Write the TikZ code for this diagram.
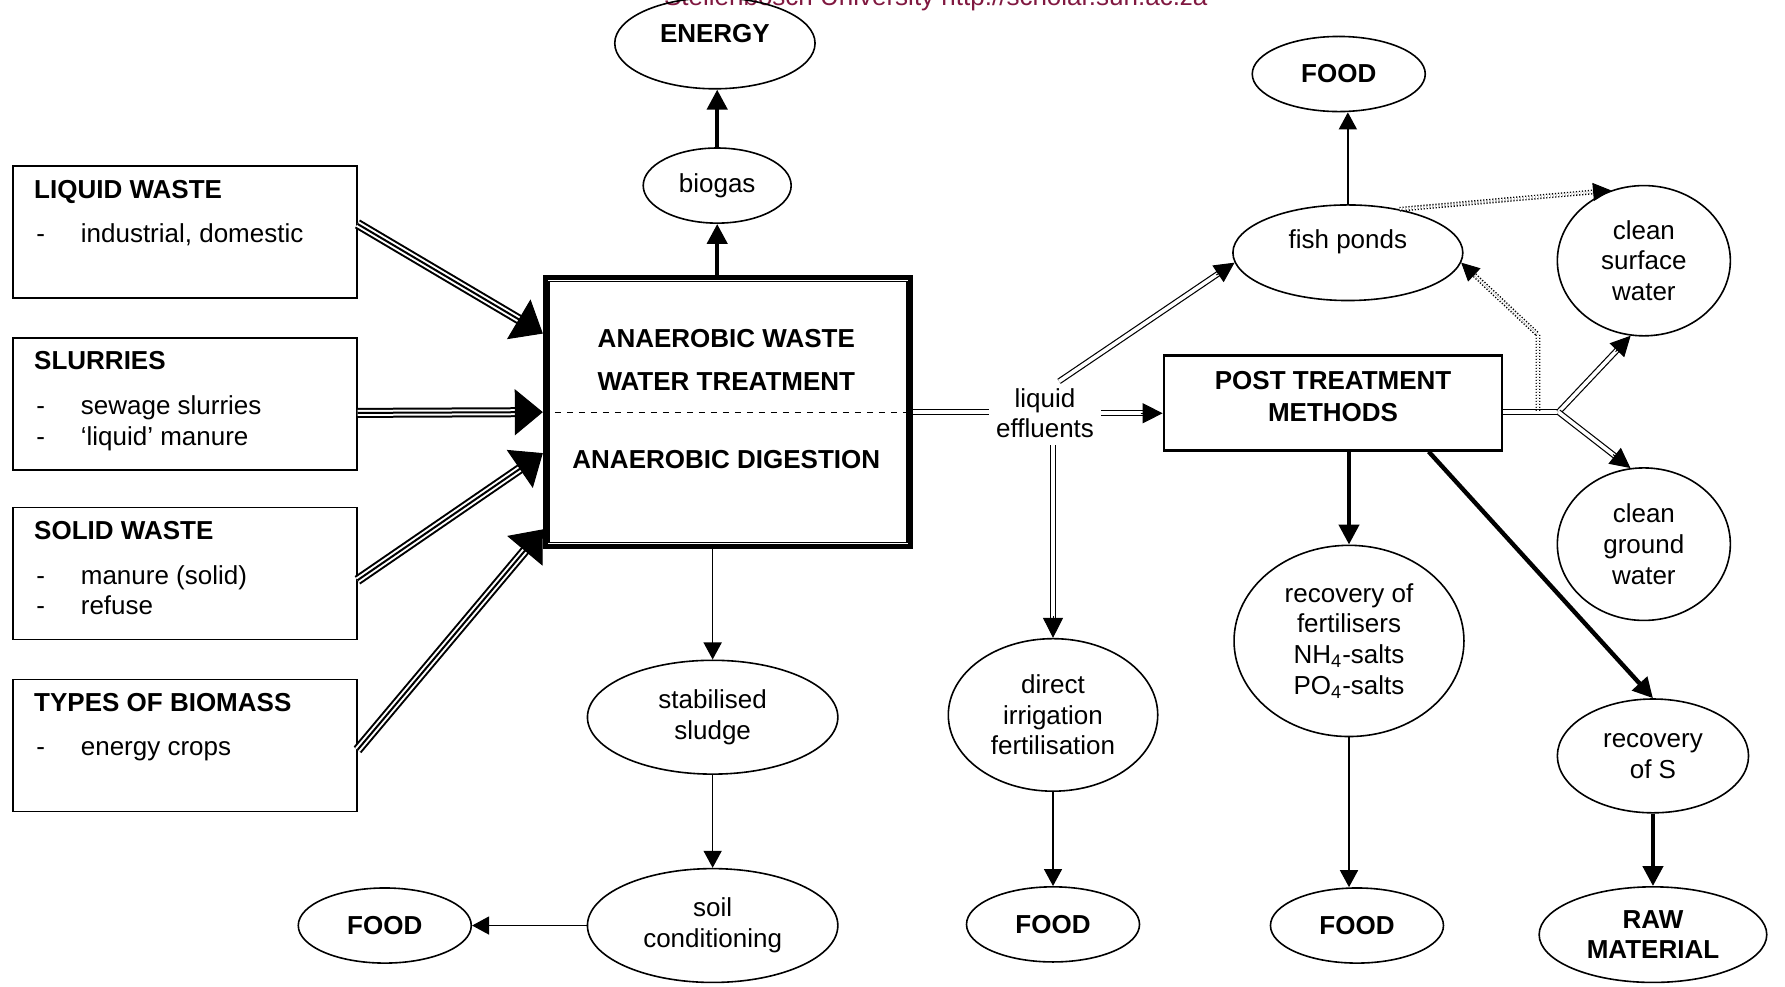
\documentclass[tikz,border=0pt]{standalone}
\usepackage{fontspec}
\setmainfont{Liberation Sans}
\usetikzlibrary{arrows.meta,calc,shapes.geometric}

\definecolor{wmred}{RGB}{128,24,64}
\newcommand{\diagsize}{\fontsize{13}{15.3}\selectfont}

\tikzset{
  srcbox/.style={draw, line width=0.8pt, anchor=north west, minimum width=6.04cm, minimum height=2.32cm, inner sep=0pt},
  srctitle/.style={anchor=base west, inner sep=0pt, font=\diagsize\bfseries},
  srcitem/.style={anchor=base west, inner sep=0pt, execute at begin node={\makebox[0.78cm][l]{-}}},
  oval/.style={draw, ellipse, line width=0.8pt, inner sep=0pt, align=center},
  bold/.style={font=\diagsize\bfseries},
  thinarrow/.style={line width=0.8pt, -{Triangle[length=8.5pt,width=9pt]}},
  thickarrow/.style={line width=2.2pt, -{Triangle[length=10pt,width=10pt]}},
  tripleline/.style={line width=5pt, postaction={draw=white, line width=3pt}, postaction={draw=black, line width=1pt}},
  dblline/.style={double, double distance=1.8pt, line width=0.6pt},
  dotline/.style={double, double distance=1pt, line width=0.7pt, dash pattern=on 0.6pt off 0.9pt},
  bigtip/.style={line width=0.5pt, -{Triangle[length=14pt,width=23pt]}},
  midtip/.style={line width=0.5pt, -{Triangle[length=10pt,width=10pt]}},
  dottip/.style={line width=0.5pt, -{Triangle[length=9pt,width=9pt]}}
}

% flows with a solid tip drawn over the end of the line
\newcommand{\heavyflow}[2]{%
  \draw[tripleline] (#1) -- ($(#2)!13pt!(#1)$);
  \draw[bigtip] ($(#2)!15pt!(#1)$) -- (#2);}
\newcommand{\liquidflow}[2]{%
  \draw[dblline] (#1) -- ($(#2)!9pt!(#1)$);
  \draw[midtip] ($(#2)!11pt!(#1)$) -- (#2);}

\begin{document}
\begin{tikzpicture}[x=0.02cm, y=-0.02cm, font=\diagsize]
    \useasboundingbox (0,0) rectangle (1568,867);
    \node[anchor=base, text=wmred] (wmark) at (822,5) {Stellenbosch University http://scholar.sun.ac.za};

    % input boxes
    \foreach \nm/\ytop/\ttl in {liquid/145/LIQUID WASTE, slurries/296/SLURRIES, solid/445/SOLID WASTE, biomass/596/TYPES OF BIOMASS} {
        \node[srcbox] (\nm) at (10.7,\ytop) {};
        \node[srctitle] (\nm-title) at ([shift={(19,29)}]\nm.north west) {\ttl};
    }
    \foreach \nm/\k/\txt in {liquid/1/{industrial, domestic}, slurries/1/sewage slurries, slurries/2/‘liquid’ manure, solid/1/manure (solid), solid/2/refuse, biomass/1/energy crops}
        \node[srcitem] (\nm-\k) at ([shift={(21,{41+\k*27})}]\nm.north west) {\txt};

    % digester
    \node[draw, line width=2.5pt, minimum width=6.42cm, minimum height=4.72cm] (main) at (639.5,362) {};
    \draw[line width=0.8pt] ([shift={(5.5,5.5)}]main.north west) rectangle ([shift={(-5.5,-5.5)}]main.south east);
    \draw[dashed, line width=0.6pt] (main.west) -- (main.east);
    \node[align=center, font=\fontsize{13}{21.6}\selectfont\bfseries] (main-top) at (638,316) {ANAEROBIC WASTE\\WATER TREATMENT};
    \node[bold] (main-bot) at (638,404) {ANAEROBIC DIGESTION};

    \foreach \src/\dy/\dst in {liquid/-7/-69, slurries/8/0, solid/6/36, biomass/4/103} {
        \coordinate (\src-out) at ([shift={(0,\dy)}]\src.east);
        \coordinate (\src-in) at ([shift={(0,\dst)}]main.west);
        \heavyflow{\src-out}{\src-in}
    }

    % gas and sludge
    \node[oval, minimum width=2.6cm, minimum height=1.32cm] (biogas) at (630,163) {biogas};
    \node[oval, bold, minimum width=3.52cm, minimum height=1.6cm] (energy) at (628,38) {\raisebox{5pt}[\height][\depth]{ENERGY}};
    \node[oval, minimum width=4.4cm, minimum height=2cm] (sludge) at (626,630) {stabilised\\sludge};
    \node[oval, minimum width=4.4cm, minimum height=2cm] (soil) at (626,813) {soil\\conditioning};
    \node[oval, bold, minimum width=3.04cm, minimum height=1.32cm] (food0) at (338,813) {FOOD};

    \draw[thickarrow] (main.north -| biogas.south) -- (biogas.south);
    \draw[thickarrow] (biogas.north) -- (biogas.north |- energy.south);
    \draw[thinarrow] (main.south -| sludge.north) -- (sludge.north);
    \draw[thinarrow] (sludge.south) -- (sludge.south |- soil.north);
    \draw[thinarrow] (soil.west) -- (food0.east);

    % effluents
    \node[align=center] (effl) at (918,363) {liquid\\effluents};
    \node[oval, minimum width=3.68cm, minimum height=2.68cm] (direct) at (925,628) {direct\\irrigation\\fertilisation};
    \node[oval, bold, minimum width=3.04cm, minimum height=1.32cm] (food2) at (925,812) {FOOD};
    \node[oval, minimum width=4.04cm, minimum height=1.68cm] (fish) at (1184,222) {\raisebox{5.5pt}[\height][\depth]{fish ponds}};
    \node[oval, bold, minimum width=3.04cm, minimum height=1.32cm] (food1) at (1176,65) {FOOD};

    \draw[dblline] (main.east) -- (main.east -| effl.west);
    \liquidflow{[xshift=7pt]effl.north}{fish.185}
    \liquidflow{effl.south -| direct.north}{direct.north}
    \draw[thinarrow] (direct.south) -- (food2.north);
    \draw[thinarrow] (fish.north) -- (fish.north |- food1.south);

    % post treatment
    \node[draw, line width=1.4pt, minimum width=5.94cm, minimum height=1.66cm] (post) at (1171,354) {};
    \node[align=center, font=\fontsize{13}{16}\selectfont\bfseries] (post-txt) at (1171,348) {POST TREATMENT\\METHODS};
    \liquidflow{effl.east}{effl.east -| post.west}

    \node[oval, minimum width=3.04cm, minimum height=2.64cm] (surf) at (1444,229) {clean\\surface\\water};
    \node[oval, minimum width=3.04cm, minimum height=2.68cm] (ground) at (1444,478) {clean\\ground\\water};
    \node[oval, minimum width=4.04cm, minimum height=3.36cm] (fert) at (1185,563) {recovery of\\fertilisers\\NH\textsubscript{4}-salts\\PO\textsubscript{4}-salts};
    \node[oval, bold, minimum width=3.04cm, minimum height=1.32cm] (food3) at (1192,813) {FOOD};
    \node[oval, minimum width=3.36cm, minimum height=2cm] (recS) at (1452,664) {recovery\\of S};
    \node[oval, bold, minimum width=4cm, minimum height=1.68cm] (raw) at (1452,821) {RAW\\MATERIAL};

    \coordinate (fork) at (1369,362);
    \draw[dblline] (post.east |- fork) -- (fork);
    \liquidflow{fork}{surf.260}
    \liquidflow{fork}{ground.100}

    \coordinate (dotstart) at (1351,361);
    \coordinate (dotbend) at (1351,294);
    \draw[dotline] (fish.40) -- ($(surf.115)!7pt!(fish.40)$);
    \draw[dottip] ($(surf.115)!9pt!(fish.40)$) -- (surf.115);
    \draw[dotline] (dotstart) -- (dotbend) -- ($(fish.355)!7pt!(dotbend)$);
    \draw[dottip] ($(fish.355)!9pt!(dotbend)$) -- (fish.355);

    \draw[thickarrow] (post.south -| fert.north) -- (fert.north);
    \draw[thickarrow] ([shift={(84,0)}]post.south) -- (recS.north);
    \draw[thickarrow] (recS.south) -- (raw.north);
    \draw[thinarrow] (fert.south) -- (fert.south |- food3.north);
\end{tikzpicture}
\end{document}
